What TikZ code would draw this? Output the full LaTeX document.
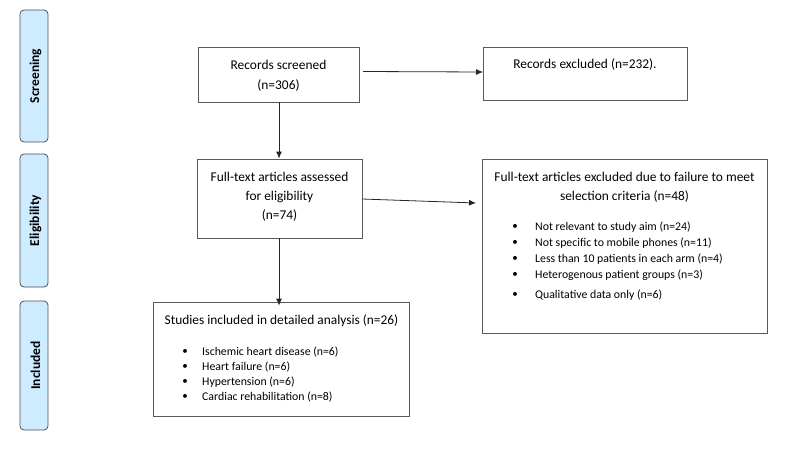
\documentclass[tikz,border=0pt]{standalone}
\usepackage{fontspec}
\setmainfont{Carlito}
\usetikzlibrary{arrows.meta}
\definecolor{barfill}{RGB}{206,236,255}
\definecolor{barline}{RGB}{80,80,80}
\definecolor{boxline}{RGB}{90,90,90}
\tikzset{
  box/.style={draw=boxline, line width=0.8pt, rectangle, inner sep=0pt},
  bar/.style={draw=barline, fill=barfill, line width=0.8pt, rounded corners=4pt, inner sep=0pt, rotate=90},
  bartext/.style={font=\fontsize{13.5}{15}\selectfont\bfseries, rotate=90},
  ttl/.style={font=\fontsize{13.4}{15}\selectfont, inner sep=0pt},
  itm/.style={font=\fontsize{11.8}{13}\selectfont, inner sep=0pt, anchor=west},
  bul/.style={font=\fontsize{11}{12}\selectfont, inner sep=0pt},
  arr/.style={draw=black!85, line width=0.8pt, -{Latex[length=7pt,width=6pt]}}
}
\begin{document}
\begin{tikzpicture}[x=1pt,y=-1pt]
\useasboundingbox (0,0) rectangle (798,450);
% side bars
\node[bar, minimum width=132pt, minimum height=28pt] (b1) at (34,76) {};
\node[bartext] (b1t) at ([xshift=1.5pt]b1.center) {Screening};
\node[bar, minimum width=133pt, minimum height=28pt] (b2) at (34,220.5) {};
\node[bartext] (b2t) at ([xshift=1.5pt]b2.center) {Eligibility};
\node[bar, minimum width=129pt, minimum height=28pt] (b3) at (34,365.5) {};
\node[bartext] (b3t) at ([xshift=1.5pt]b3.center) {Included};
% boxes
\node[box, minimum width=161pt, minimum height=55pt] (rs) at (278.5,74.5) {};
\node[ttl] (rs1) at (278.5,65) {Records screened};
\node[ttl] (rs2) at (278.5,86) {(n=306)};
\node[box, minimum width=204pt, minimum height=53pt] (re) at (585,73.5) {};
\node[ttl] (re1) at (585,65) {Records excluded (n=232).};
\node[box, minimum width=165pt, minimum height=79pt] (fa) at (279.5,198.5) {};
\node[ttl] (fa1) at (279.5,177) {Full-text articles assessed};
\node[ttl] (fa2) at (279.5,197) {for eligibility};
\node[ttl] (fa3) at (279.5,216) {(n=74)};
\node[box, minimum width=285pt, minimum height=174pt] (fe) at (624.5,246) {};
\node[ttl] (fe1) at (624.5,177) {Full-text articles excluded due to failure to meet};
\node[ttl] (fe2) at (624.5,197) {selection criteria (n=48)};
\node[bul] (feb1) at (515,227) {\textbullet};
\node[itm] (fei1) at (535,227) {Not relevant to study aim (n=24)};
\node[bul] (feb2) at (515,243) {\textbullet};
\node[itm] (fei2) at (535,243) {Not specific to mobile phones (n=11)};
\node[bul] (feb3) at (515,259) {\textbullet};
\node[itm] (fei3) at (535,259) {Less than 10 patients in each arm (n=4)};
\node[bul] (feb4) at (515,275) {\textbullet};
\node[itm] (fei4) at (535,275) {Heterogenous patient groups (n=3)};
\node[bul] (feb5) at (515,295) {\textbullet};
\node[itm] (fei5) at (535,295) {Qualitative data only (n=6)};
\node[box, minimum width=256pt, minimum height=114pt] (st) at (281,359) {};
\node[ttl] (st1) at (281.5,321) {Studies included in detailed analysis (n=26)};
\node[bul] (stb1) at (185,352) {\textbullet};
\node[itm] (sti1) at (202,352) {Ischemic heart disease (n=6)};
\node[bul] (stb2) at (185,367) {\textbullet};
\node[itm] (sti2) at (202,367) {Heart failure (n=6)};
\node[bul] (stb3) at (185,382) {\textbullet};
\node[itm] (sti3) at (202,382) {Hypertension (n=6)};
\node[bul] (stb4) at (185,397) {\textbullet};
\node[itm] (sti4) at (202,397) {Cardiac rehabilitation (n=8)};
% connectors
\coordinate (a1s) at (363,71.5);
\coordinate (a1e) at (483,72);
\draw[arr] (a1s) -- (a1e);
\draw[arr] (rs.south -| 279,0) -- (fa.north -| 279,0);
\coordinate (a3s) at (362,199);
\coordinate (a3e) at (476,203);
\draw[arr] (a3s) -- (a3e);
\draw[arr] (fa.south -| 279,0) -- ([yshift=-4pt]st.north -| 279,0);
\end{tikzpicture}
\end{document}
